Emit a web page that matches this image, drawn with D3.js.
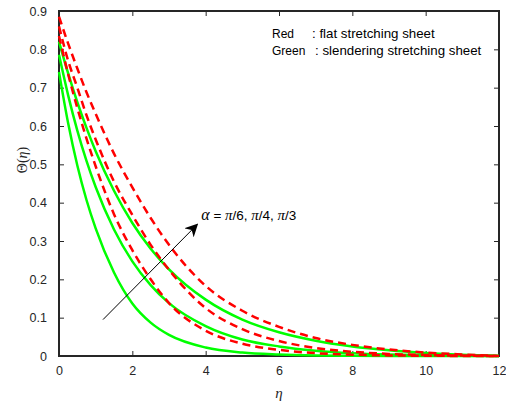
<!DOCTYPE html>
<html>
<head>
<meta charset="utf-8">
<script src="https://cdn.jsdelivr.net/npm/d3@7"></script>
<style>
  body { margin: 0; background: #fff; }
  svg { display: block; }
  text { font-family: "Liberation Sans", Arial, sans-serif; }
</style>
</head>
<body>
<div id="chart"></div>
<script>
// Data
var eta = [0, 0.25, 0.5, 0.75, 1, 1.5, 2, 2.5, 3, 4, 5, 6, 7, 8, 9, 10, 11, 12];

// Red dashed: flat stretching sheet (alpha = pi/6, pi/4, pi/3)
var flatPi6 = [0.835, 0.735, 0.647, 0.567, 0.495, 0.37, 0.276, 0.2, 0.138, 0.066, 0.032, 0.016, 0.0075, 0.0035, 0.0015, 0.0006, 0.0002, 0];
var flatPi4 = [0.86, 0.77, 0.70, 0.628, 0.565, 0.455, 0.368, 0.29, 0.225, 0.125, 0.07, 0.039, 0.021, 0.011, 0.0055, 0.0025, 0.001, 0];
var flatPi3 = [0.885, 0.815, 0.75, 0.688, 0.632, 0.528, 0.44, 0.36, 0.29, 0.183, 0.118, 0.076, 0.047, 0.029, 0.017, 0.009, 0.004, 0];

// Green solid: slendering stretching sheet
var slenderPi6 = [0.741, 0.607, 0.497, 0.407, 0.333, 0.218, 0.137, 0.087, 0.055, 0.022, 0.009, 0.004, 0.0015, 0.0006, 0.0002, 0.0001, 0, 0];
var slenderPi4 = [0.786, 0.68, 0.588, 0.509, 0.441, 0.33, 0.247, 0.185, 0.138, 0.078, 0.043, 0.025, 0.014, 0.0075, 0.004, 0.002, 0.0008, 0];
var slenderPi3 = [0.82, 0.737, 0.662, 0.595, 0.534, 0.431, 0.347, 0.28, 0.226, 0.147, 0.095, 0.062, 0.04, 0.025, 0.015, 0.008, 0.003, 0];

// Ticks
var xTicks = [0, 2, 4, 6, 8, 10, 12];
var yTicks = [0, 0.1, 0.2, 0.3, 0.4, 0.5, 0.6, 0.7, 0.8, 0.9];

// Annotation arrow (data coords)
var arrowFrom = [1.2, 0.095];
var arrowTo = [3.77, 0.343];

// Define svg dimension
var svgWidth = 506;
var svgHeight = 405;

var axisColor = "#262626";

var svg = d3.select("#chart")
  .append("svg")
  .attr("width", svgWidth)
  .attr("height", svgHeight);

// Scales
var xScale = d3.scaleLinear().domain([0, 12]).range([59, 499]);
var yScale = d3.scaleLinear().domain([0, 0.9]).range([356, 11]);

var x0 = xScale.range()[0], x1 = xScale.range()[1];
var y0 = yScale.range()[0], y1 = yScale.range()[1];

// Axes (box with inward ticks on all sides)
var tickLen = 5;
svg.append("g")
  .attr("transform", `translate(0,${y0})`)
  .call(d3.axisBottom(xScale).tickValues(xTicks).tickSizeInner(-tickLen).tickSizeOuter(0).tickPadding(10).tickFormat(d3.format("d")))
  .call(g => g.select(".domain").remove());

svg.append("g")
  .attr("transform", `translate(${x0},0)`)
  .call(d3.axisLeft(yScale).tickValues(yTicks).tickSizeInner(-tickLen).tickSizeOuter(0).tickPadding(12).tickFormat(d => d === 0 ? "0" : d3.format(".1f")(d)))
  .call(g => g.select(".domain").remove());

svg.append("g")
  .attr("transform", `translate(0,${y1})`)
  .call(d3.axisTop(xScale).tickValues(xTicks).tickSizeInner(-tickLen).tickSizeOuter(0).tickFormat(""))
  .call(g => g.select(".domain").remove());

svg.append("g")
  .attr("transform", `translate(${x1},0)`)
  .call(d3.axisRight(yScale).tickValues(yTicks).tickSizeInner(-tickLen).tickSizeOuter(0).tickFormat(""))
  .call(g => g.select(".domain").remove());

svg.selectAll(".tick line").attr("stroke", axisColor).attr("stroke-width", 1);
svg.selectAll(".tick text")
  .attr("fill", axisColor)
  .style("font-size", "12.5px")
  .style("font-family", "Liberation Sans, Arial, sans-serif");

svg.append("rect")
  .attr("x", x0).attr("y", y1)
  .attr("width", x1 - x0).attr("height", y0 - y1)
  .attr("fill", "none")
  .attr("stroke", axisColor)
  .attr("stroke-width", 2);

// Lines
var line = d3.line()
  .x(d => xScale(d[0]))
  .y(d => yScale(d[1]))
  .curve(d3.curveMonotoneX);

var greens = [slenderPi6, slenderPi4, slenderPi3];
var reds = [flatPi6, flatPi4, flatPi3];

greens.forEach(function(vals) {
  svg.append("path")
    .datum(eta.map((e, i) => [e, vals[i]]))
    .attr("d", line)
    .attr("fill", "none")
    .attr("stroke", "#00ff00")
    .attr("stroke-width", 2.5);
});

reds.forEach(function(vals) {
  svg.append("path")
    .datum(eta.map((e, i) => [e, vals[i]]))
    .attr("d", line)
    .attr("fill", "none")
    .attr("stroke", "#ff0000")
    .attr("stroke-width", 2.5)
    .attr("stroke-dasharray", "8,5");
});

// Arrow
svg.append("defs").append("marker")
  .attr("id", "head")
  .attr("viewBox", "0 0 10 10")
  .attr("refX", 9).attr("refY", 5)
  .attr("markerWidth", 13).attr("markerHeight", 13)
  .attr("markerUnits", "userSpaceOnUse")
  .attr("orient", "auto")
  .append("path")
  .attr("d", "M0,0 L10,5 L0,10 L3,5 Z")
  .attr("fill", "#000");

svg.append("line")
  .attr("x1", xScale(arrowFrom[0])).attr("y1", yScale(arrowFrom[1]))
  .attr("x2", xScale(arrowTo[0])).attr("y2", yScale(arrowTo[1]))
  .attr("stroke", "#000")
  .attr("stroke-width", 1)
  .attr("marker-end", "url(#head)");

var serif = "Liberation Serif, Times New Roman, serif";
var alphaText = svg.append("text")
  .attr("x", xScale(arrowTo[0]) + 4)
  .attr("y", yScale(arrowTo[1]) - 5)
  .attr("fill", "#000")
  .style("font-size", "13.5px");
alphaText.append("tspan").style("font-family", serif).style("font-style", "italic").style("font-size", "16px").text("α");
alphaText.append("tspan").text(" = ");
alphaText.append("tspan").style("font-family", serif).style("font-style", "italic").style("font-size", "15px").text("π");
alphaText.append("tspan").text("/6, ");
alphaText.append("tspan").style("font-family", serif).style("font-style", "italic").style("font-size", "15px").text("π");
alphaText.append("tspan").text("/4, ");
alphaText.append("tspan").style("font-family", serif).style("font-style", "italic").style("font-size", "15px").text("π");
alphaText.append("tspan").text("/3");

// Legend text
var legend = [["Red", ": flat stretching sheet", 312, 38], ["Green", ": slendering stretching sheet", 315, 55]];
legend.forEach(function(l) {
  svg.append("text").attr("x", 272).attr("y", l[3]).style("font-size", "12px").attr("fill", "#000").text(l[0]);
  svg.append("text").attr("x", l[2]).attr("y", l[3]).style("font-size", "13.3px").attr("fill", "#000").text(l[1]);
});

// Axis titles
svg.append("text")
  .attr("x", (x0 + x1) / 2)
  .attr("y", 398)
  .attr("text-anchor", "middle")
  .attr("fill", axisColor)
  .style("font-family", serif)
  .style("font-style", "italic")
  .style("font-size", "15px")
  .text("η");

var yTitle = svg.append("g")
  .attr("transform", "translate(27,160)")
  .append("text")
  .attr("text-anchor", "middle")
  .attr("transform", "rotate(-90)")
  .attr("fill", axisColor)
  .style("font-family", serif)
  .style("font-size", "14px");
yTitle.append("tspan").text("Θ(");
yTitle.append("tspan").style("font-style", "italic").text("η");
yTitle.append("tspan").text(")");
</script>
</body>
</html>
